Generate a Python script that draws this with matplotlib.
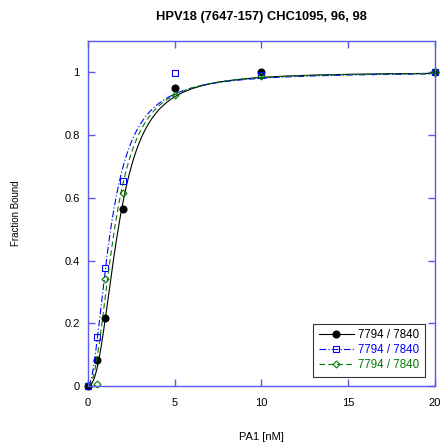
import numpy as np
import matplotlib
matplotlib.use("Agg")
import matplotlib.pyplot as plt

plt.rcParams['font.family'] = ['Liberation Sans', 'DejaVu Sans']

# Binding data: concentration (nM) vs fraction bound
conc_black = [0, 0.5, 1, 2, 5, 10, 20]
bound_black = [0.0, 0.082, 0.216, 0.565, 0.951, 1.0, 1.0]

conc_blue = [0, 0.5, 1, 2, 5, 10, 20]
bound_blue = [0.0, 0.157, 0.375, 0.655, 0.998, 0.99, 1.0]

conc_green = [0.5, 1, 2, 5, 10, 20]
bound_green = [0.006, 0.342, 0.614, 0.927, 0.988, 1.0]

legend_labels = ["7794 / 7840", "7794 / 7840", "7794 / 7840"]
x_ticks = [0, 5, 10, 15, 20]
y_ticks = [0, 0.2, 0.4, 0.6, 0.8, 1]
y_tick_labels = ["0", "0.2", "0.4", "0.6", "0.8", "1"]


def hill(x, k, n):
    x = np.asarray(x, dtype=float)
    return x ** n / (k ** n + x ** n)


def fit_hill(x, y):
    x = np.asarray(x, float)
    y = np.asarray(y, float)
    best = None
    for k in np.linspace(0.5, 4, 351):
        for n in np.linspace(0.8, 4, 161):
            r = np.sum((hill(x, k, n) - y) ** 2)
            if best is None or r < best[0]:
                best = (r, k, n)
    return best[1], best[2]


fig = plt.figure(figsize=(4.41, 4.45), dpi=100)
ax = fig.add_axes([0.1995, 0.1326, 0.7865, 0.7754])

xs = np.linspace(0, 20, 600)
axis_blue = '#5a5af0'

series = [
    (conc_black, bound_black, 'black', '-', 'o', 'black', 5, legend_labels[0]),
    (conc_blue, bound_blue, '#0000ff', (0, (6, 2, 1, 2)), 's', 'none', 5, legend_labels[1]),
    (conc_green, bound_green, '#007a00', (0, (5, 3)), 'D', 'none', 3.5, legend_labels[2]),
]

handles = []
for cx, cy, col, ls, mk, mfc, ms, lab in series:
    k, n = fit_hill(cx, cy)
    ax.plot(xs, hill(xs, k, n), color=col, linestyle=ls, linewidth=0.8)
    ax.plot(cx, cy, linestyle='none', marker=mk, markerfacecolor=mfc,
            markeredgecolor=col, markersize=ms, markeredgewidth=0.8,
            clip_on=False)
    h, = ax.plot([], [], color=col, linestyle=ls, linewidth=0.8, marker=mk,
                 markerfacecolor=mfc, markeredgecolor=col, markersize=ms,
                 markeredgewidth=0.8, label=lab)
    handles.append(h)

ax.set_xlim(0, 20)
ax.set_ylim(0, 1.1)
ax.set_xticks(x_ticks)
ax.set_xticklabels([str(t) for t in x_ticks])
ax.set_yticks(y_ticks)
ax.set_yticklabels(y_tick_labels)

for s in ax.spines.values():
    s.set_color(axis_blue)
    s.set_linewidth(1.0)
ax.tick_params(direction='in', length=5, width=1.0, color=axis_blue,
               labelsize=8, top=True, right=True)
ax.tick_params(axis='x', pad=9)
ax.tick_params(axis='y', pad=6)

ax.set_title("HPV18 (7647-157) CHC1095, 96, 98", fontsize=9.3, fontweight='bold', pad=15)
ax.set_xlabel("PA1 [nM]", fontsize=8, labelpad=17)
ax.set_ylabel("Fraction Bound", fontsize=7, labelpad=31)

leg = ax.legend(handles=handles, loc='lower right', fontsize=8.3, frameon=True,
                fancybox=False, edgecolor='black', handlelength=3.0,
                bbox_to_anchor=(0.972, 0.026), borderaxespad=0.0,
                labelspacing=0.25, handletextpad=0.4, borderpad=0.5)
leg.get_frame().set_linewidth(0.8)
for txt, (_, _, col, *_rest) in zip(leg.get_texts(), series):
    txt.set_color(col)

fig.savefig("out.png", dpi=100)
